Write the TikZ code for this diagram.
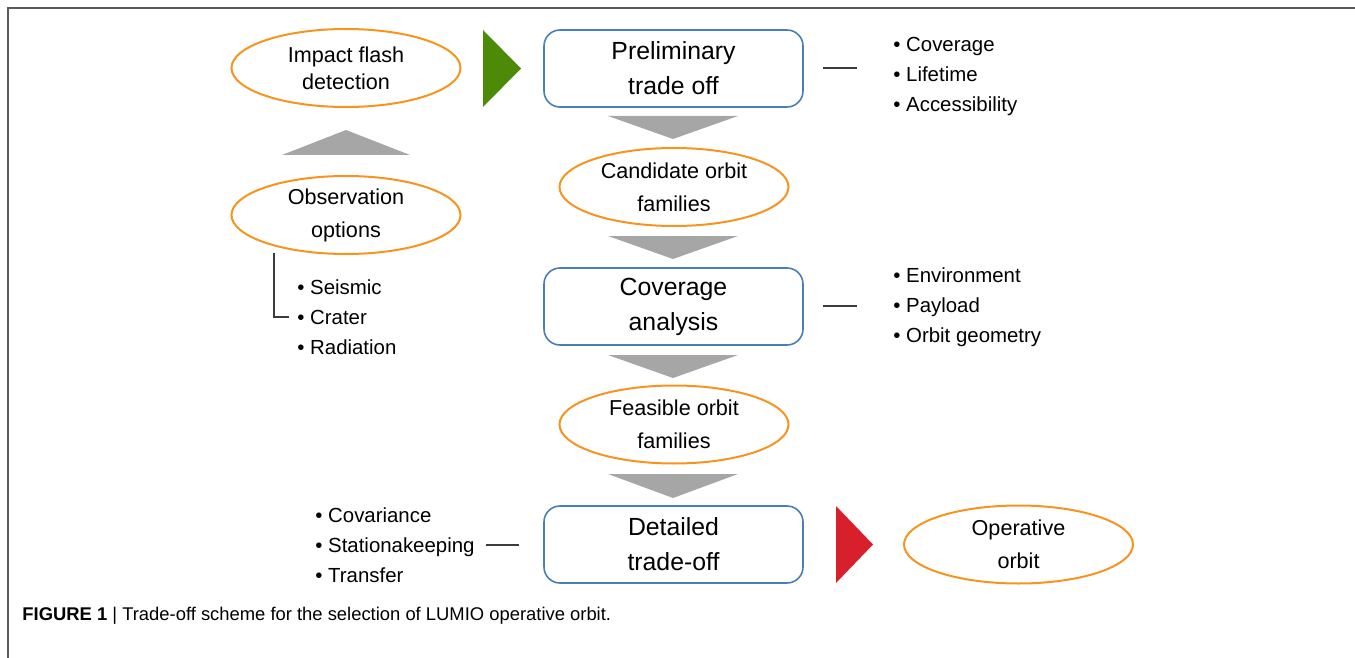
\documentclass[tikz,border=0pt]{standalone}
\usepackage{fontspec}
\setmainfont{Liberation Sans}
\usetikzlibrary{shapes.geometric,calc}
\definecolor{orng}{RGB}{247,148,30}
\definecolor{bluebox}{RGB}{74,126,187}
\definecolor{grn}{RGB}{76,138,8}
\definecolor{redtri}{RGB}{216,32,44}
\definecolor{tri}{RGB}{166,166,166}
\definecolor{framegray}{RGB}{90,90,90}
\definecolor{dashgray}{RGB}{60,60,60}
\tikzset{
  ell/.style={ellipse, draw=orng, line width=1pt, minimum width=114.5pt, minimum height=39pt, inner sep=0pt, align=center, font=\fontsize{10.8}{16.5}\selectfont},
  boxnode/.style={rectangle, rounded corners=8pt, draw=bluebox, line width=0.8pt, minimum width=129.5pt, minimum height=38.5pt, inner sep=0pt, align=center, font=\fontsize{12.4}{17.5}\selectfont},
  bullets/.style={anchor=west, inner sep=0pt, align=left, font=\fontsize{10.2}{15}\selectfont},
  tiny/.style={draw=dashgray, line width=0.6pt},
  grayarrow/.style={fill=tri, draw=none}
}
\begin{document}
\begin{tikzpicture}[x=0.5pt,y=-0.5pt]
\useasboundingbox (0,0) rectangle (1355,658);
% frame
\draw[framegray, line width=1pt] (8,658) -- (8,8) -- (1355,8);

% nodes
\node[ell, font=\fontsize{10.8}{13.5}\selectfont] (impact) at (346,68) {Impact flash\\detection};
\node[ell] (obs) at (346,215) {Observation\\options};
\node[boxnode] (prelim) at (673.5,68.5) {Preliminary\\trade off};
\node[ell] (cand) at (674,187) {Candidate orbit\\families};
\node[boxnode] (cov) at (673.5,306.5) {Coverage\\analysis};
\node[ell] (feas) at (674,424.5) {Feasible orbit\\families};
\node[boxnode] (det) at (673.5,544.5) {Detailed\\trade-off};
\node[ell] (oper) at (1018.5,544.5) {Operative\\orbit};

% bullet lists
\node[bullets] (l1) at (893,76) {• Coverage\\• Lifetime\\• Accessibility};
\node[bullets] (l2) at (893,307.5) {• Environment\\• Payload\\• Orbit geometry};
\node[bullets] (l3) at (297,317) {• Seismic\\• Crater\\• Radiation};
\node[bullets] (l4) at (315,545.5) {• Covariance\\• Stationakeeping\\• Transfer};

% dashes
\coordinate (d1a) at (823,68); \coordinate (d1b) at (857,68);
\coordinate (d2a) at (823,306); \coordinate (d2b) at (857,306);
\coordinate (d3a) at (486,545); \coordinate (d3b) at (519,545);
\draw[tiny] (d1a) -- (d1b);
\draw[tiny] (d2a) -- (d2b);
\draw[tiny] (d3a) -- (d3b);
% bracket from observation options
\coordinate (bt) at (274,253); \coordinate (bc) at (274,317); \coordinate (be) at (289,317);
\draw[tiny] (bt) -- (bc) -- (be);

% triangles
\fill[grn] (483,30) -- (521,68.5) -- (483,107) -- cycle;
\fill[redtri] (836,506) -- (873,544.5) -- (836,583) -- cycle;
\fill[grayarrow] (282,155) -- (346,130) -- (410,155) -- cycle;
\fill[grayarrow] (608,116) -- (738,116) -- (673,139) -- cycle;
\fill[grayarrow] (608,236) -- (738,236) -- (673,259) -- cycle;
\fill[grayarrow] (608,355) -- (738,355) -- (673,378) -- cycle;
\fill[grayarrow] (608,474) -- (738,474) -- (673,498) -- cycle;

% caption
\node[anchor=west, inner sep=0pt, font=\fontsize{9.2}{11}\selectfont] (cap) at (22,616) {\textbf{FIGURE 1} | Trade-off scheme for the selection of LUMIO operative orbit.};
\end{tikzpicture}
\end{document}
